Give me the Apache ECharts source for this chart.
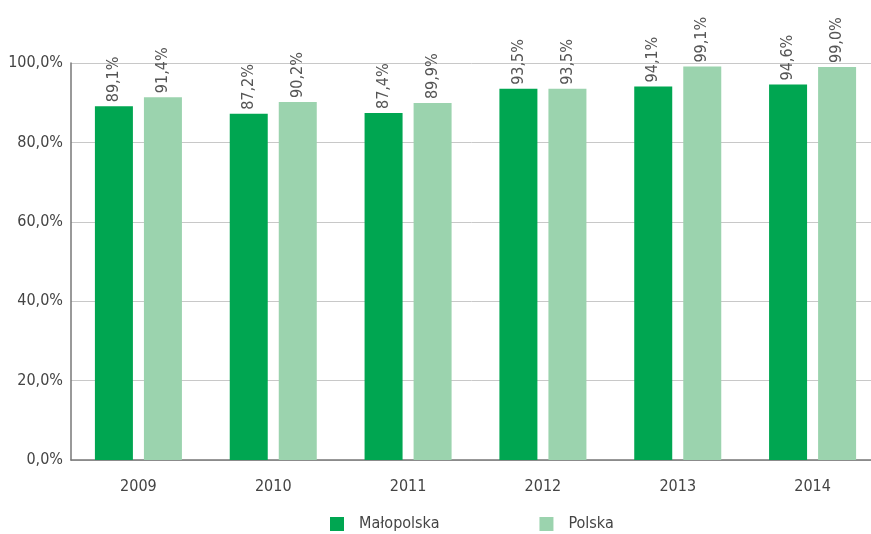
<!DOCTYPE html>
<html>
<head>
<meta charset="utf-8">
<script src="https://cdn.jsdelivr.net/npm/echarts@6/dist/echarts.min.js"></script>
<style>
  html, body { margin: 0; padding: 0; background: #fff; }
  #chart { width: 871px; height: 534px; }
</style>
</head>
<body>
<div id="chart"></div>
<script>
// dane z wykresu
var years = ['2009', '2010', '2011', '2012', '2013', '2014'];
var malopolska = [89.1, 87.2, 87.4, 93.5, 94.1, 94.6];
var polska = [91.4, 90.2, 89.9, 93.5, 99.1, 99.0];
var yTicks = [0, 20, 40, 60, 80, 100];

var font = '"DejaVu Sans Condensed", sans-serif';

function pct(v) {
    return v.toFixed(1).replace('.', ',') + '%';
}

var labelStyle = {
    show: true,
    position: 'top',
    rotate: 90,
    align: 'left',
    verticalAlign: 'middle',
    distance: 4,
    color: '#555',
    fontFamily: font,
    fontSize: 16,
    formatter: function (p) { return pct(p.value); }
};

var chart = echarts.init(document.getElementById('chart'));

var option = {
    backgroundColor: '#fff',
    animation: false,
    grid: {
        left: 71,
        width: 809,
        top: 63,
        bottom: 74,
        outerBoundsMode: 'none'
    },
    legend: {
        top: 511,
        left: 325,
        itemWidth: 14,
        itemHeight: 14,
        itemGap: 100,
        icon: 'rect',
        textStyle: { color: '#444', fontFamily: font, fontSize: 16, padding: [0, 0, 0, 10] },
        data: ['Małopolska', 'Polska']
    },
    xAxis: {
        type: 'category',
        data: years,
        axisLine: { lineStyle: { color: '#777', width: 1.5 } },
        axisTick: { show: false },
        axisLabel: { color: '#444', fontFamily: font, fontSize: 16, margin: 19 }
    },
    yAxis: {
        type: 'value',
        min: 0,
        max: 100,
        interval: 20,
        axisLine: { show: true, lineStyle: { color: '#777', width: 1.5 } },
        axisTick: { show: false },
        splitLine: { lineStyle: { color: '#c8c8c8', width: 1 } },
        axisLabel: {
            color: '#444',
            fontFamily: font,
            fontSize: 16,
            margin: 8,
            formatter: function (v) { return yTicks.indexOf(v) >= 0 ? pct(v) : ''; }
        }
    },
    series: [
        {
            name: 'Małopolska',
            type: 'bar',
            data: malopolska,
            barWidth: 38,
            barGap: '29%',
            itemStyle: { color: '#00a651' },
            label: labelStyle
        },
        {
            name: 'Polska',
            type: 'bar',
            data: polska,
            barWidth: 38,
            barGap: '29%',
            itemStyle: { color: '#9bd3ae' },
            label: labelStyle
        }
    ]
};

chart.setOption(option);
</script>
</body>
</html>
